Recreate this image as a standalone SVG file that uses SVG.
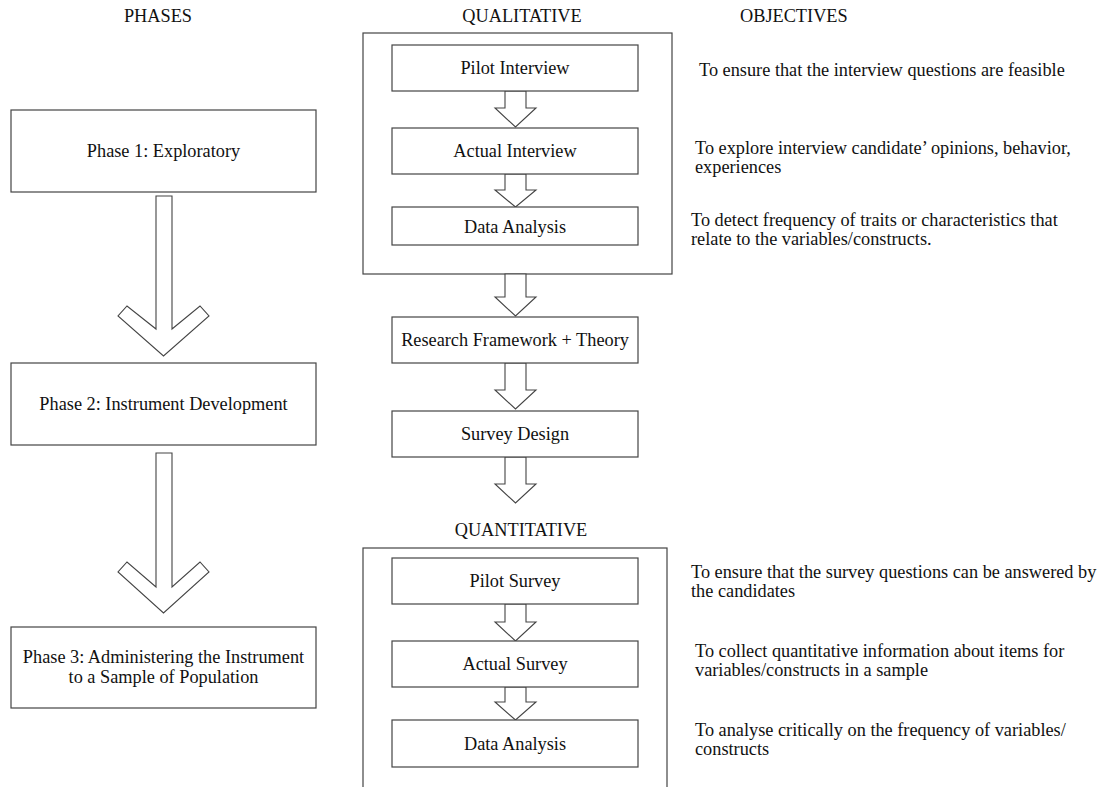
<svg xmlns="http://www.w3.org/2000/svg" width="1108" height="787" viewBox="0 0 1108 787">
<style>
text{font-family:"Liberation Serif","Times New Roman",serif;font-size:18.3px;fill:#111}
.c{text-anchor:middle}
.box{fill:#fff;stroke:#444;stroke-width:1.2}
.frame{fill:none;stroke:#444;stroke-width:1.2}
.arr{fill:#fff;stroke:#444;stroke-width:1.1;stroke-linejoin:miter}
</style>
<rect width="1108" height="787" fill="#fff"/>

<g id="headers">
<text class="c" x="158" y="22">PHASES</text>
<text class="c" x="522" y="22">QUALITATIVE</text>
<text x="740" y="22">OBJECTIVES</text>
<text class="c" x="521" y="536">QUANTITATIVE</text>
</g>

<g id="qualitative-frame"><rect class="frame" x="363" y="33" width="309" height="241"/></g>
<g id="quantitative-frame"><rect class="frame" x="363" y="548" width="304" height="250"/></g>

<g id="connectors">
<path class="arr" d="M505,91 H526 V108 H536 L515.5,127 L495,108 H505 Z"/>
<path class="arr" d="M505,174 H526 V190 H536 L515.5,207 L495,190 H505 Z"/>
<path class="arr" d="M505,274 H526 V297 H536 L515.5,316 L495,297 H505 Z"/>
<path class="arr" d="M505,363 H526 V390 H536 L515.5,409 L495,390 H505 Z"/>
<path class="arr" d="M505,457 H526 V484 H536 L515.5,503 L495,484 H505 Z"/>
<path class="arr" d="M505,604 H526 V622 H536 L515.5,641 L495,622 H505 Z"/>
<path class="arr" d="M505,687 H526 V702 H536 L515.5,720 L495,702 H505 Z"/>
<path class="arr" d="M156,196 H172 V329 L200,306 L209,316 L163.5,356 L118,316 L127,306 L156,329 Z"/>
<path class="arr" d="M156,453 H172 V587 L200,562 L209,572 L163.5,613 L118,572 L127,562 L156,587 Z"/>
</g>

<g id="phase1"><rect class="box" x="11" y="110" width="305" height="82"/><text class="c" x="163.5" y="157">Phase 1: Exploratory</text></g>
<g id="phase2"><rect class="box" x="11" y="363" width="305" height="82"/><text class="c" x="163.5" y="410">Phase 2: Instrument Development</text></g>
<g id="phase3"><rect class="box" x="11" y="627" width="305" height="81"/><text class="c" x="163.5" y="663">Phase 3: Administering the Instrument</text><text class="c" x="163.5" y="683">to a Sample of Population</text></g>

<g id="pilot-interview"><rect class="box" x="392" y="45" width="246" height="46"/><text class="c" x="515" y="74">Pilot Interview</text></g>
<g id="actual-interview"><rect class="box" x="392" y="128" width="246" height="46"/><text class="c" x="515" y="157">Actual Interview</text></g>
<g id="data-analysis-1"><rect class="box" x="392" y="207" width="246" height="38"/><text class="c" x="515" y="233">Data Analysis</text></g>
<g id="research-framework"><rect class="box" x="392" y="317" width="246" height="46"/><text class="c" x="515" y="346">Research Framework + Theory</text></g>
<g id="survey-design"><rect class="box" x="392" y="411" width="246" height="46"/><text class="c" x="515" y="440">Survey Design</text></g>
<g id="pilot-survey"><rect class="box" x="392" y="558" width="246" height="46"/><text class="c" x="515" y="587">Pilot Survey</text></g>
<g id="actual-survey"><rect class="box" x="392" y="641" width="246" height="46"/><text class="c" x="515" y="670">Actual Survey</text></g>
<g id="data-analysis-2"><rect class="box" x="392" y="720" width="246" height="47"/><text class="c" x="515" y="750">Data Analysis</text></g>

<g id="objectives">
<text x="699" y="76">To ensure that the interview questions are feasible</text>
<text x="695" y="154">To explore interview candidate’ opinions, behavior,</text>
<text x="695" y="173">experiences</text>
<text x="691" y="226">To detect frequency of traits or characteristics that</text>
<text x="691" y="245">relate to the variables/constructs.</text>
<text x="691" y="578">To ensure that the survey questions can be answered by</text>
<text x="691" y="597">the candidates</text>
<text x="695" y="657">To collect quantitative information about items for</text>
<text x="695" y="676">variables/constructs in a sample</text>
<text x="695" y="736">To analyse critically on the frequency of variables/</text>
<text x="695" y="755">constructs</text>
</g>
</svg>
